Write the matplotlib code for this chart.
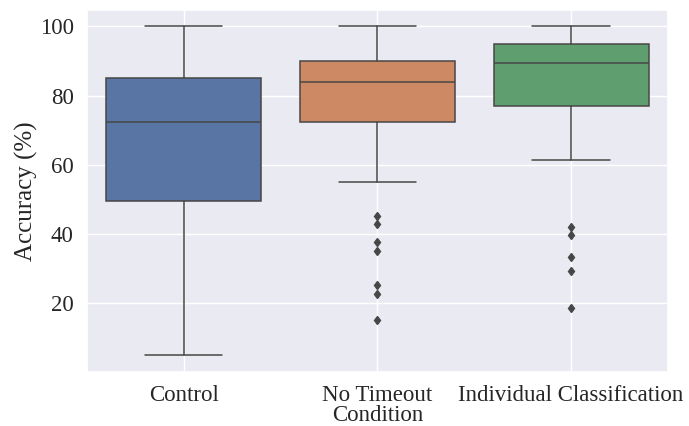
import numpy as np
import matplotlib
matplotlib.use("Agg")
import matplotlib.pyplot as plt
import seaborn as sns

# summary stats per condition (accuracy, %)
conditions = ["Control", "No Timeout\nCondition", "Individual Classification"]
q1 = [49.5, 72.5, 77.0]
median = [72.5, 84.0, 89.5]
q3 = [85.0, 90.0, 95.0]
whisker_lo = [5.0, 55.0, 61.5]
whisker_hi = [100.0, 100.0, 100.0]
outliers = [
    [],
    [45.2, 42.8, 37.8, 35.2, 25.3, 22.7, 15.2],
    [42.0, 39.8, 33.5, 29.3, 18.8],
]

box_colors = ["#5975a4", "#cc8963", "#5f9e6e"]
edge = "#474747"
lw = 1.1

sns.set_theme(style="darkgrid", font_scale=1.5)
plt.rcParams["font.family"] = ["Liberation Serif", "DejaVu Serif"]

fig = plt.figure(figsize=(6.89, 4.26), dpi=100)
ax = fig.add_axes([0.126, 0.127, 0.8435, 0.85])

stats = []
for i in range(len(conditions)):
    stats.append({
        "q1": q1[i], "med": median[i], "q3": q3[i],
        "whislo": whisker_lo[i], "whishi": whisker_hi[i],
        "fliers": outliers[i],
    })

bp = ax.bxp(stats, positions=range(len(conditions)), widths=0.8,
            patch_artist=True, showfliers=True,
            boxprops=dict(edgecolor=edge, linewidth=lw),
            medianprops=dict(color=edge, linewidth=lw),
            whiskerprops=dict(color=edge, linewidth=lw),
            capprops=dict(color=edge, linewidth=lw),
            flierprops=dict(marker="d", markerfacecolor=edge, markeredgecolor=edge,
                            markersize=4.5, linestyle="none"))
for patch, c in zip(bp["boxes"], box_colors):
    patch.set_facecolor(c)

ax.set_xlim(-0.5, 2.5)
ax.set_ylim(0.25, 104.75)
ax.set_yticks([20, 40, 60, 80, 100])
ax.set_xticks(range(len(conditions)))
ax.set_xticklabels(conditions, linespacing=0.95)
ax.set_ylabel("Accuracy (%)", labelpad=1)

fig.savefig("out.png", dpi=100)
